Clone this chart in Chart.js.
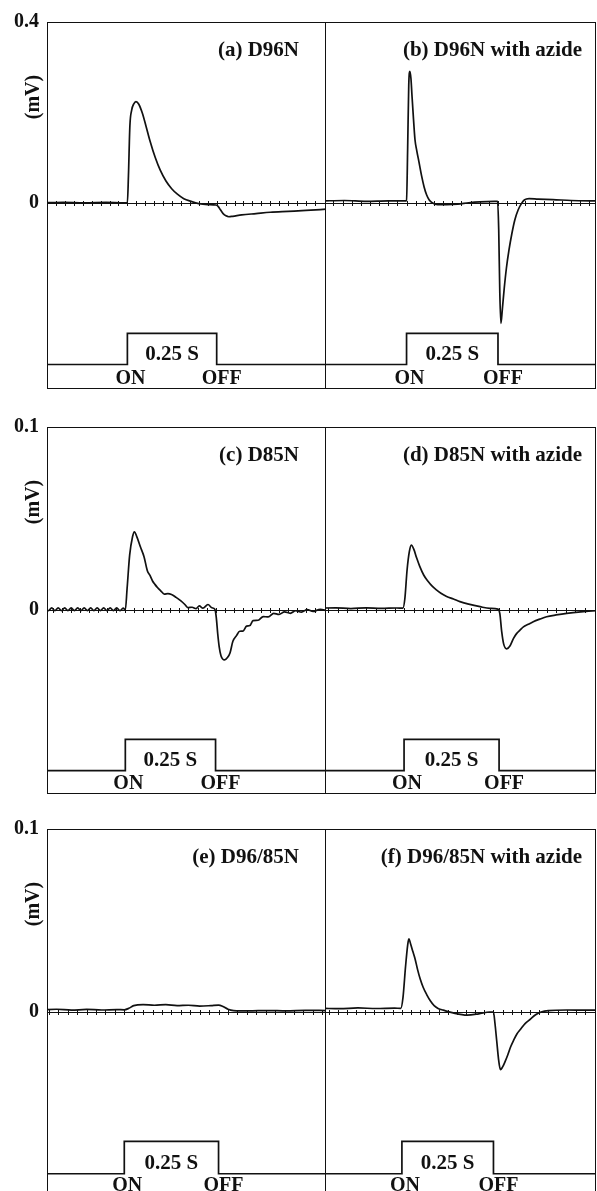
<!DOCTYPE html>
<html>
<head>
<meta charset="utf-8">
<script src="https://cdn.jsdelivr.net/npm/chart.js@4.4.1/dist/chart.umd.min.js"></script>
<style>
  body { margin: 0; background: #fff; }
  #wrap { position: relative; width: 597px; height: 1191px; overflow: hidden; background: #fff; }
  #wrap canvas { position: absolute; }
</style>
</head>
<body>
<div id="wrap"></div>
<script>
// time in ms (light ON at 0, OFF at 250), signal in mV
const onTime = 0;
const offTime = 250;

const panelLabels = ['(a) D96N', '(b) D96N with azide', '(c) D85N', '(d) D85N with azide',
  '(e) D96/85N', '(f) D96/85N with azide'];
const rowMax = [0.4, 0.1, 0.1];
const rowMin = [-0.41, -0.1, -0.1];
const rowTickLabels = [['0', '0.4'], ['0', '0.1'], ['0', '0.1']];
const unitLabel = '(mV)';
const stimLabel = '0.25 S';
const onLabel = 'ON';
const offLabel = 'OFF';

// small marks along the zero line
const zeroTicks = [-200, -175, -150, -125, -100, -75, -50, -25, 0, 25, 50, 75, 100, 125, 150,
  175, 200, 225, 250, 275, 300, 325, 350, 375, 400, 425, 450, 475, 500, 525, 550];

// light pulse marker (drawn on the same axes, low / high level per row)
const stimTime = [-260, 0, 0, 250, 250, 600];
const stimLow = [-0.358, -0.0878, -0.0884];
const stimHigh = [-0.289, -0.0707, -0.0707];

// traces [t (ms), mV]
const traceA = [[-230, 0], [-180, 0.001], [-120, 0], [-60, 0.001], [-10, 0], [0, 0], [3, 0.06],
  [7, 0.17], [12, 0.205], [18, 0.219], [24, 0.224], [32, 0.218], [42, 0.198], [52, 0.17],
  [64, 0.135], [78, 0.1], [92, 0.072], [108, 0.048], [124, 0.031], [140, 0.019], [158, 0.009],
  [178, 0.003], [200, -0.002], [225, -0.004], [248, -0.005], [254, -0.008], [260, -0.015],
  [268, -0.024], [276, -0.029], [284, -0.031], [295, -0.03], [320, -0.027], [360, -0.024],
  [400, -0.021], [450, -0.019], [500, -0.017], [560, -0.014]];

const traceB = [[-230, 0.004], [-170, 0.005], [-110, 0.003], [-50, 0.004], [-5, 0.004], [0, 0.005],
  [3, 0.12], [6, 0.26], [9, 0.291], [12, 0.275], [15, 0.235], [19, 0.185], [23, 0.14], [28, 0.115],
  [34, 0.09], [41, 0.06], [48, 0.035], [55, 0.017], [62, 0.006], [70, 0], [85, -0.004],
  [110, -0.004], [140, -0.003], [170, 0], [200, 0.002], [240, 0.003], [249, 0.003], [252, -0.06],
  [255, -0.2], [258, -0.267], [262, -0.235], [267, -0.19], [273, -0.145], [280, -0.105],
  [288, -0.068], [296, -0.038], [305, -0.016], [314, -0.002], [322, 0.006], [335, 0.009],
  [360, 0.008], [400, 0.007], [450, 0.005], [525, 0.004]];

const traceC = [[-222, 0.001], [-213, -0.0004], [-204, 0.0012], [-195, -0.0004], [-186, 0.0012],
  [-177, -0.0003], [-168, 0.0012], [-159, -0.0004], [-150, 0.0012], [-141, -0.0003], [-132, 0.0012],
  [-123, -0.0004], [-114, 0.0012], [-105, -0.0003], [-96, 0.0012], [-87, -0.0004], [-78, 0.0012],
  [-69, -0.0003], [-60, 0.0012], [-51, -0.0004], [-42, 0.0012], [-33, -0.0003], [-24, 0.0012],
  [-15, -0.0004], [-6, 0.001], [0, 0], [5, 0.012], [12, 0.03], [20, 0.04], [25, 0.0427],
  [32, 0.04], [42, 0.0344], [52, 0.029], [61, 0.0215], [68, 0.019], [75, 0.016], [82, 0.014],
  [89, 0.0123], [98, 0.0105], [108, 0.0087], [118, 0.009], [128, 0.0085], [140, 0.007],
  [154, 0.005], [165, 0.003], [173, 0.0013], [185, 0.0015], [196, 0.0008], [205, 0.0022],
  [215, 0.001], [229, 0.003], [240, 0.0012], [248, 0.0004], [252, -0.004], [256, -0.013],
  [260, -0.02], [265, -0.025], [275, -0.0273], [283, -0.026], [290, -0.0235], [298, -0.0171],
  [308, -0.014], [317, -0.0116], [326, -0.0115], [336, -0.0088], [345, -0.0085], [354, -0.0058],
  [368, -0.0056], [382, -0.0036], [396, -0.0038], [411, -0.0018], [426, -0.0024], [441, -0.001],
  [457, -0.0018], [472, -0.0004], [488, -0.0012], [504, 0.0002], [520, -0.0008], [540, 0.0004],
  [558, -0.0004]];

const traceD = [[-222, 0.001], [-180, 0.0012], [-140, 0.0008], [-100, 0.0012], [-60, 0.0009],
  [-20, 0.0011], [-3, 0.001], [2, 0.006], [8, 0.022], [14, 0.032], [19, 0.0355], [26, 0.033],
  [33, 0.0285], [41, 0.024], [52, 0.019], [63, 0.0157], [74, 0.013], [85, 0.011], [98, 0.009],
  [112, 0.0074], [130, 0.006], [147, 0.0046], [170, 0.0032], [200, 0.0018], [226, 0.0009],
  [247, 0.0005], [252, -0.002], [257, -0.012], [262, -0.0185], [270, -0.0212], [279, -0.0195],
  [288, -0.0155], [296, -0.0129], [305, -0.011], [314, -0.0092], [327, -0.0078], [340, -0.0064],
  [357, -0.005], [375, -0.0037], [400, -0.0027], [428, -0.0018], [465, -0.001], [507, -0.0004],
  [525, -0.0003]];

const traceE = [[-222, 0.0012], [-180, 0.0015], [-140, 0.001], [-100, 0.0014], [-60, 0.0011],
  [-20, 0.0013], [0, 0.0012], [12, 0.002], [25, 0.0035], [50, 0.004], [80, 0.0037], [110, 0.004],
  [140, 0.0035], [170, 0.0037], [200, 0.0032], [230, 0.0035], [250, 0.0038], [262, 0.003],
  [275, 0.0015], [290, 0.0008], [330, 0.0006], [380, 0.0008], [430, 0.0006], [480, 0.0009],
  [535, 0.0008]];

const traceF = [[-215, 0.002], [-170, 0.0018], [-120, 0.0022], [-70, 0.0019], [-20, 0.0021],
  [-3, 0.002], [3, 0.008], [10, 0.025], [16, 0.037], [19, 0.04], [24, 0.037], [30, 0.033],
  [36, 0.029], [43, 0.023], [50, 0.018], [58, 0.0135], [68, 0.0094], [78, 0.006], [88, 0.0035],
  [100, 0.0018], [113, 0.001], [140, -0.0005], [178, -0.0017], [210, -0.001], [240, 0], [250, 0],
  [254, -0.006], [259, -0.016], [264, -0.026], [269, -0.0315], [275, -0.03], [282, -0.027],
  [289, -0.0235], [297, -0.019], [305, -0.0155], [314, -0.012], [324, -0.0094], [337, -0.0062],
  [351, -0.0039], [365, -0.0015], [380, 0], [400, 0.0008], [450, 0.0011], [500, 0.001],
  [535, 0.001]];

const traces = [traceA, traceB, traceC, traceD, traceE, traceF];

// time window shown in each panel
const xRanges = [[-225, 556], [-223, 518], [-217, 556], [-208, 505], [-205, 535], [-210, 530]];

const ink = '#111';
const serif = '"Liberation Serif", "DejaVu Serif", serif';
const rowTop = [22, 427, 829];
const boxH = 365;
const padTop = 16;

const panelDecor = {
  id: 'panelDecor',
  beforeDatasetsDraw(chart) {
    const { ctx, chartArea: area, scales: { x, y } } = chart;
    const y0 = Math.round(y.getPixelForValue(0)) + 0.5;
    ctx.save();
    ctx.strokeStyle = ink;
    ctx.lineWidth = 1;
    ctx.beginPath();
    ctx.moveTo(area.left, y0);
    ctx.lineTo(area.right, y0);
    zeroTicks.forEach(t => {
      const px = Math.round(x.getPixelForValue(t)) + 0.5;
      if (px > area.left + 2 && px < area.right - 2) {
        ctx.moveTo(px, y0 - 2.5);
        ctx.lineTo(px, y0 + 2.5);
      }
    });
    ctx.stroke();
    ctx.restore();
  },
  afterDraw(chart, args, opts) {
    const { ctx, chartArea: area, scales: { x, y } } = chart;
    ctx.save();
    ctx.strokeStyle = ink;
    ctx.lineWidth = 1;
    ctx.strokeRect(area.left + 0.5, area.top + 0.5, area.right - area.left - 1, area.bottom - area.top);

    ctx.fillStyle = ink;
    ctx.font = 'bold 21px ' + serif;
    ctx.textBaseline = 'alphabetic';
    ctx.textAlign = 'right';
    ctx.fillText(opts.label, area.right - opts.labelInset, area.top + 34);

    ctx.textAlign = 'center';
    const xOn = x.getPixelForValue(onTime);
    const xOff = x.getPixelForValue(offTime);
    ctx.fillText(stimLabel, (xOn + xOff) / 2, y.getPixelForValue(opts.stimLow) - 5);
    ctx.font = 'bold 20px ' + serif;
    ctx.fillText(onLabel, xOn + 3, area.top + 362);
    ctx.fillText(offLabel, xOff + 5, area.top + 362);

    if (opts.unit) {
      ctx.translate(34, area.top + 75);
      ctx.rotate(-Math.PI / 2);
      ctx.textBaseline = 'middle';
      ctx.fillText(unitLabel, 0, 0);
    }
    ctx.restore();
  }
};

const wrap = document.getElementById('wrap');

traces.forEach((trace, i) => {
  const row = Math.floor(i / 2);
  const isLeft = i % 2 === 0;
  const canvas = document.createElement('canvas');
  const w = isLeft ? 326 : 272;
  const h = padTop + boxH + 2;
  canvas.width = w;
  canvas.height = h;
  canvas.style.left = (isLeft ? 0 : 325) + 'px';
  canvas.style.top = (rowTop[row] - padTop) + 'px';
  canvas.style.width = w + 'px';
  canvas.style.height = h + 'px';
  wrap.appendChild(canvas);

  const stimY = [stimLow[row], stimLow[row], stimHigh[row], stimHigh[row], stimLow[row], stimLow[row]];

  new Chart(canvas, {
    type: 'line',
    data: {
      datasets: [
        {
          data: trace.map(p => ({ x: p[0], y: p[1] })),
          borderColor: ink,
          borderWidth: 1.7,
          pointRadius: 0,
          cubicInterpolationMode: 'monotone'
        },
        {
          data: stimTime.map((t, k) => ({ x: t, y: stimY[k] })),
          borderColor: ink,
          borderWidth: 1.7,
          pointRadius: 0,
          tension: 0
        }
      ]
    },
    plugins: [panelDecor],
    options: {
      responsive: false,
      animation: false,
      devicePixelRatio: 1,
      layout: { padding: { top: padTop, bottom: 1, left: 0, right: isLeft ? 0 : 1 } },
      plugins: {
        legend: { display: false },
        tooltip: { enabled: false },
        panelDecor: {
          label: panelLabels[i],
          labelInset: isLeft ? 27 : 14,
          stimLow: stimLow[row],
          unit: isLeft
        }
      },
      scales: {
        x: {
          type: 'linear',
          display: false,
          min: xRanges[i][0],
          max: xRanges[i][1]
        },
        y: {
          display: isLeft,
          min: rowMin[row],
          max: rowMax[row],
          grid: { display: false, drawTicks: false },
          border: { display: false },
          afterBuildTicks: s => { s.ticks = [{ value: 0 }, { value: rowMax[row] }]; },
          afterFit: s => {
            s.width = isLeft ? 47 : 0;
            s.paddingTop = 0;
            s.paddingBottom = 0;
          },
          ticks: {
            padding: 8,
            color: ink,
            font: { family: serif, size: 20, weight: 'bold' },
            callback: v => (v === 0 ? rowTickLabels[row][0] : rowTickLabels[row][1])
          }
        }
      }
    }
  });
});
</script>
</body>
</html>
